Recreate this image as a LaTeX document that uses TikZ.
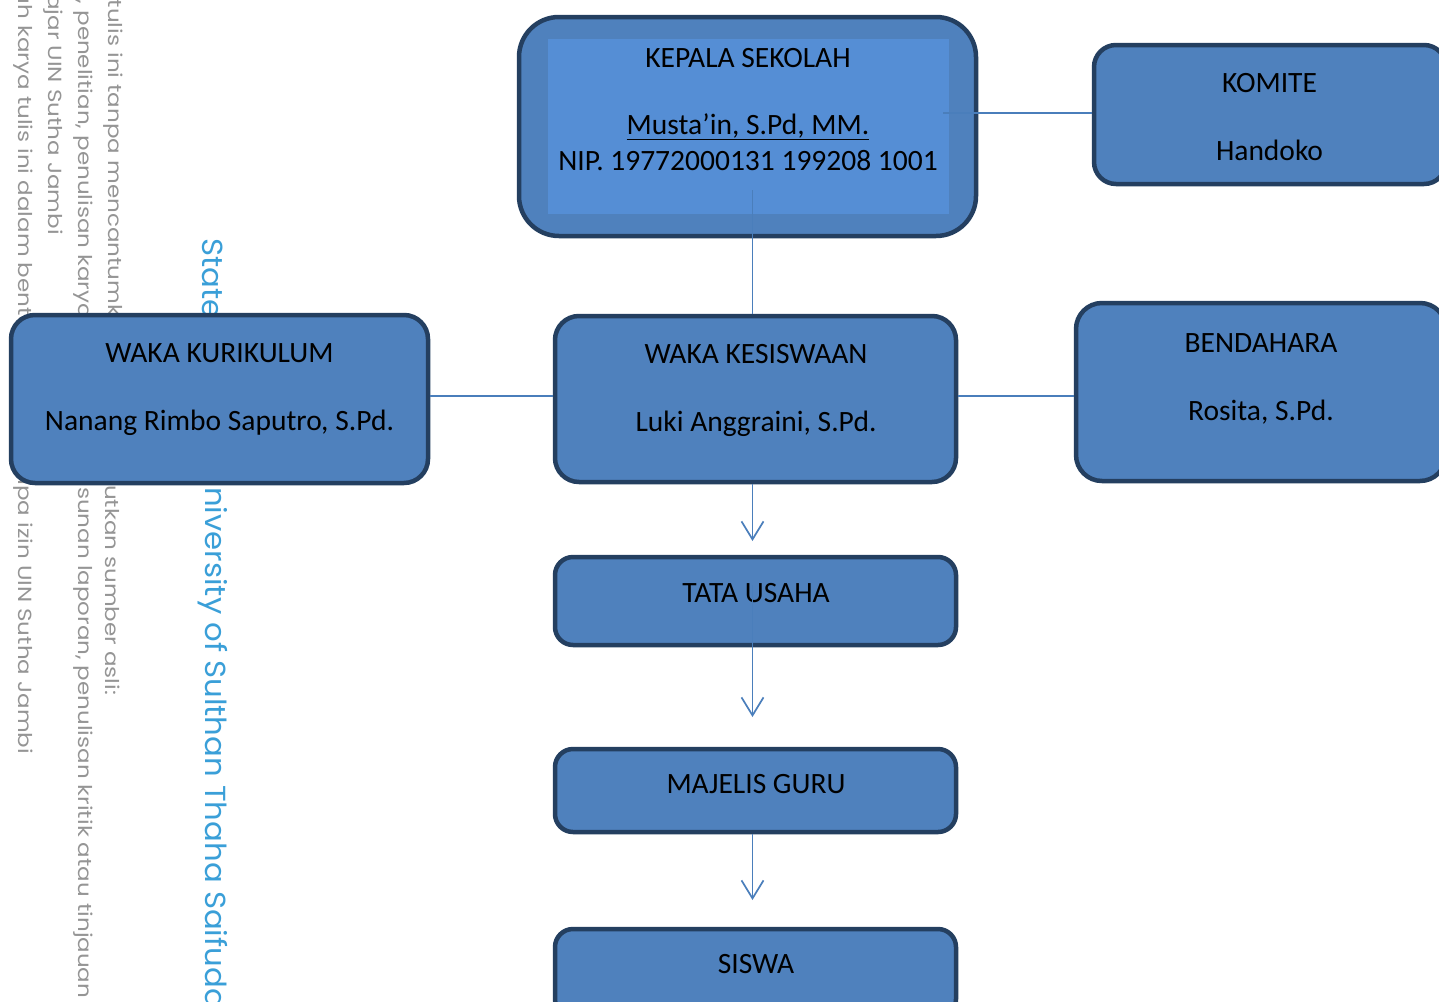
\documentclass[tikz,border=0pt]{standalone}
\usepackage{fontspec}
\setmainfont{Carlito}
\newfontfamily\wmfont[FakeStretch=1.21]{Poppins}
\newfontfamily\wmbfont[FakeStretch=1.06]{Poppins}
\usetikzlibrary{arrows.meta}
\definecolor{boxfill}{HTML}{4F81BD}
\definecolor{boxline}{HTML}{243F60}
\definecolor{innerfill}{HTML}{558ED5}
\definecolor{conncol}{HTML}{4A7EBB}
\definecolor{wmgray}{HTML}{959595}
\definecolor{wmblue}{HTML}{3A9FD8}
\begin{document}
\begin{tikzpicture}[x=1pt,y=-1pt,
  orgbox/.style={draw=boxline, fill=boxfill, line width=4.5pt, inner sep=0pt, rounded corners=#1},
  orgbox/.default=22pt,
  txt/.style={font=\fontsize{29.5}{34}\selectfont, anchor=base, inner sep=0pt, text=black},
  conn/.style={draw=conncol, line width=1.7pt},
  arr/.style={conn, -{Straight Barb[length=18pt,width=22pt]}},
  wm/.style={font=\wmfont\fontsize{19}{22}\selectfont, text=wmgray, rotate=-90, inner sep=0pt},
  wmb/.style={font=\wmbfont\fontsize{29}{32}\selectfont, text=wmblue, rotate=-90, inner sep=0pt, anchor=west}
]
\useasboundingbox (0,0) rectangle (1439,1001);
\clip (0,0) rectangle (1439,1001);
\fill[white] (0,0) rectangle (1439,1001);

% watermark text
\node[wm, anchor=east] (w1a) at (113,470) {Dilarang mengutip sebagian atau seluruh karya tulis ini tanpa mencantumkan dan meny};
\node[wm, anchor=west] (w1b) at (113,485) {utkan sumber asli:};
\node[wm, anchor=east] (w2a) at (83,479) {a. Pengutipan hanya untuk kepentingan pendidikan, penelitian, penulisan karya ilmiah, penyu};
\node[wm, anchor=west] (w2b) at (83,487) {sunan laporan, penulisan kritik atau tinjauan suatu masalah.};
\node[wm, anchor=east] (w3) at (53,235) {b. Pengutipan tidak merugikan kepentingan yang wajar UIN Sutha Jambi};
\node[wm, anchor=east] (w4a) at (23,485) {2. Dilarang memperbanyak sebagian dan atau seluruh karya tulis ini dalam bentuk apapun tan};
\node[wm, anchor=west] (w4b) at (23,485) {pa izin UIN Sutha Jambi};
\node[wmb] (wba) at (213,238) {State Islamic U};
\node[wmb] (wbb) at (213,487) {niversity of Sulthan Thaha Saifuddin Jambi};

% boxes
\node[orgbox=40pt, minimum width=457pt, minimum height=219pt] (kep) at (747.5,126.5) {};
\node[fill=innerfill, inner sep=0pt, minimum width=401pt, minimum height=175pt] (kepin) at (748.5,126.5) {};
\node[orgbox=22pt, minimum width=352pt, minimum height=139pt] (kom) at (1270,114.5) {};
\node[orgbox=26pt, minimum width=370pt, minimum height=178pt] (ben) at (1261,392) {};
\node[orgbox=24pt, minimum width=417pt, minimum height=168pt] (kur) at (219.5,399) {};
\node[orgbox=24pt, minimum width=401pt, minimum height=166pt] (kes) at (755.5,399) {};
\node[orgbox=18pt, minimum width=401pt, minimum height=88pt] (tu) at (755.5,601) {};
\node[orgbox=18pt, minimum width=401pt, minimum height=83pt] (mg) at (755.5,790.5) {};
\node[orgbox=18pt, minimum width=401pt, minimum height=88pt] (sis) at (755.5,973) {};

% texts
\node[txt] (kept1) at (748,67) {KEPALA SEKOLAH};
\node[txt] (kept2) at (748,134) {\underline{Musta’in, S.Pd, MM.}};
\node[txt] (kept3) at (748,170) {NIP. 19772000131 199208 1001};
\node[txt] (komt1) at (1269.5,92) {KOMITE};
\node[txt] (komt2) at (1269.5,160) {Handoko};
\node[txt] (bent1) at (1261,352) {BENDAHARA};
\node[txt] (bent2) at (1261,420) {Rosita, S.Pd.};
\node[txt] (kurt1) at (219.5,362) {WAKA KURIKULUM};
\node[txt] (kurt2) at (219.5,430) {Nanang Rimbo Saputro, S.Pd.};
\node[txt] (kest1) at (756,363) {WAKA KESISWAAN};
\node[txt] (kest2) at (756,431) {Luki Anggraini, S.Pd.};
\node[txt] (tut) at (756,602) {TATA USAHA};
\node[txt] (mgt) at (756,793) {MAJELIS GURU};
\node[txt] (sist) at (756,973) {SISWA};

% connectors
\coordinate (kepE) at (943,113);
\coordinate (kepS) at (752.5,190);
\coordinate (midrow) at (0,396);
\coordinate (a1) at (752.5,541);
\coordinate (tuin) at (752.5,585);
\coordinate (a2) at (752.5,717);
\coordinate (a3) at (752.5,900);
\draw[conn] (kepE) -- (kepE -| kom.west);
\draw[conn] (kepS) -- (kepS |- kes.north);
\draw[conn] (kur.east |- midrow) -- (kes.west |- midrow);
\draw[conn] (kes.east |- midrow) -- (ben.west |- midrow);
\draw[arr] (kes.south -| a1) -- (a1);
\draw[arr] (tuin) -- (a2);
\draw[arr] (mg.south -| a3) -- (a3);
\end{tikzpicture}
\end{document}
